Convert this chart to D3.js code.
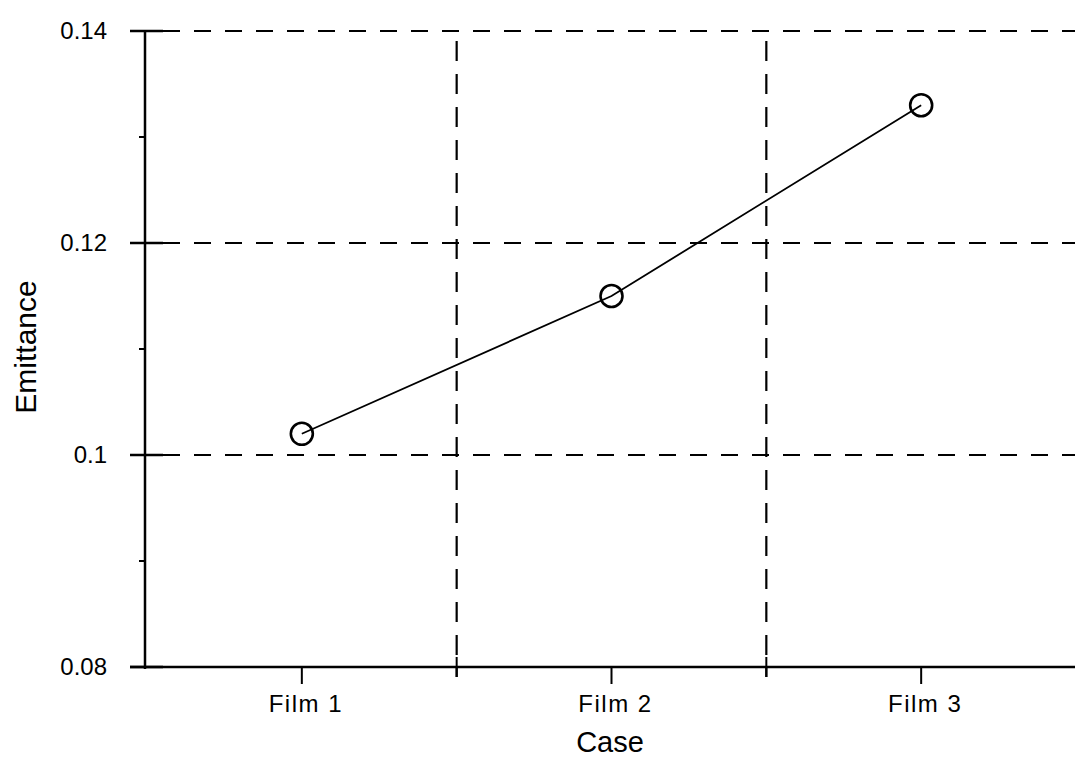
<!DOCTYPE html>
<html>
<head>
<meta charset="utf-8">
<script src="https://cdn.jsdelivr.net/npm/d3@7"></script>
<style>
  html, body { margin: 0; padding: 0; background: #fff; }
  svg { display: block; }
  text { font-family: "Liberation Sans", Arial, sans-serif; fill: #000; }
</style>
</head>
<body>
<svg id="chart" width="1075" height="760"></svg>
<script>
const categories = ["Film 1", "Film 2", "Film 3"];
const emittance = [0.102, 0.115, 0.133];
const yMajorTicks = [0.08, 0.1, 0.12, 0.14];
const yMinorTicks = [0.09, 0.11, 0.13];
const yTickLabels = ["0.08", "0.1", "0.12", "0.14"];
const xTitle = "Case";
const yTitle = "Emittance";

(function () {
const svg = d3.select("#chart");
const pLeft = 145, pRight = 1075, pTop = 31, pBottom = 667;

const x = d3.scaleBand().domain(categories).range([147, 1076]).paddingInner(0).paddingOuter(0);
const y = d3.scaleLinear().domain([0.08, 0.14]).range([pBottom, pTop]);

// horizontal dashed gridlines
svg.append("g").selectAll("line")
  .data(yMajorTicks.filter(d => d > 0.08))
  .join("line")
  .attr("x1", pLeft + 18).attr("x2", pRight)
  .attr("y1", d => y(d)).attr("y2", d => y(d))
  .attr("stroke", "#000").attr("stroke-width", 2.2)
  .attr("stroke-dasharray", "17,14");

// vertical dashed gridlines at band boundaries
const bounds = categories.slice(1).map(c => x(c));
svg.append("g").selectAll("line")
  .data(bounds)
  .join("line")
  .attr("x1", d => d).attr("x2", d => d)
  .attr("y1", pTop + 10).attr("y2", pBottom + 10)
  .attr("stroke", "#000").attr("stroke-width", 2.2)
  .attr("stroke-dasharray", "20,13");
// small solid ticks crossing bottom axis at boundaries
svg.append("g").selectAll("line")
  .data(bounds)
  .join("line")
  .attr("x1", d => d).attr("x2", d => d)
  .attr("y1", pBottom - 10).attr("y2", pBottom + 10)
  .attr("stroke", "#000").attr("stroke-width", 2);

// left axis
svg.append("line")
  .attr("x1", pLeft).attr("x2", pLeft)
  .attr("y1", pTop).attr("y2", pBottom + 2)
  .attr("stroke", "#000").attr("stroke-width", 2.5);
// bottom axis
svg.append("line")
  .attr("x1", pLeft - 15).attr("x2", pRight)
  .attr("y1", pBottom).attr("y2", pBottom)
  .attr("stroke", "#000").attr("stroke-width", 2.5);

// y major ticks
svg.append("g").selectAll("line")
  .data(yMajorTicks)
  .join("line")
  .attr("x1", pLeft - 15).attr("x2", pLeft + 18)
  .attr("y1", d => y(d)).attr("y2", d => y(d))
  .attr("stroke", "#000").attr("stroke-width", 2.5);
// y minor ticks
svg.append("g").selectAll("line")
  .data(yMinorTicks)
  .join("line")
  .attr("x1", pLeft - 6).attr("x2", pLeft)
  .attr("y1", d => y(d)).attr("y2", d => y(d))
  .attr("stroke", "#000").attr("stroke-width", 2);

// y tick labels
svg.append("g").selectAll("text")
  .data(yMajorTicks)
  .join("text")
  .attr("x", 107)
  .attr("y", d => y(d))
  .attr("dy", "0.34em")
  .attr("text-anchor", "end")
  .attr("font-size", 24)
  .text((d, i) => yTickLabels[i]);

// x ticks
const cx = c => x(c) + x.bandwidth() / 2;
svg.append("g").selectAll("line")
  .data(categories)
  .join("line")
  .attr("x1", d => cx(d)).attr("x2", d => cx(d))
  .attr("y1", pBottom).attr("y2", pBottom + 17)
  .attr("stroke", "#000").attr("stroke-width", 2);
svg.append("g").selectAll("text")
  .data(categories)
  .join("text")
  .attr("x", d => cx(d) + 4)
  .attr("y", 712)
  .attr("text-anchor", "middle")
  .attr("font-size", 24)
  .attr("letter-spacing", "1.5px")
  .text(d => d);

// axis titles
svg.append("text")
  .attr("x", 610).attr("y", 752)
  .attr("text-anchor", "middle")
  .attr("font-size", 29)
  .text(xTitle);
svg.append("text")
  .attr("transform", "translate(36,347) rotate(-90)")
  .attr("text-anchor", "middle")
  .attr("font-size", 30)
  .text(yTitle);

// data line
const line = d3.line()
  .x((d, i) => cx(categories[i]))
  .y(d => y(d));
svg.append("path")
  .datum(emittance)
  .attr("d", line)
  .attr("fill", "none")
  .attr("stroke", "#000")
  .attr("stroke-width", 1.8);

// markers
svg.append("g").selectAll("circle")
  .data(emittance)
  .join("circle")
  .attr("cx", (d, i) => cx(categories[i]))
  .attr("cy", d => y(d))
  .attr("r", 11)
  .attr("fill", "none")
  .attr("stroke", "#000")
  .attr("stroke-width", 2.6);
})();
</script>
</body>
</html>
